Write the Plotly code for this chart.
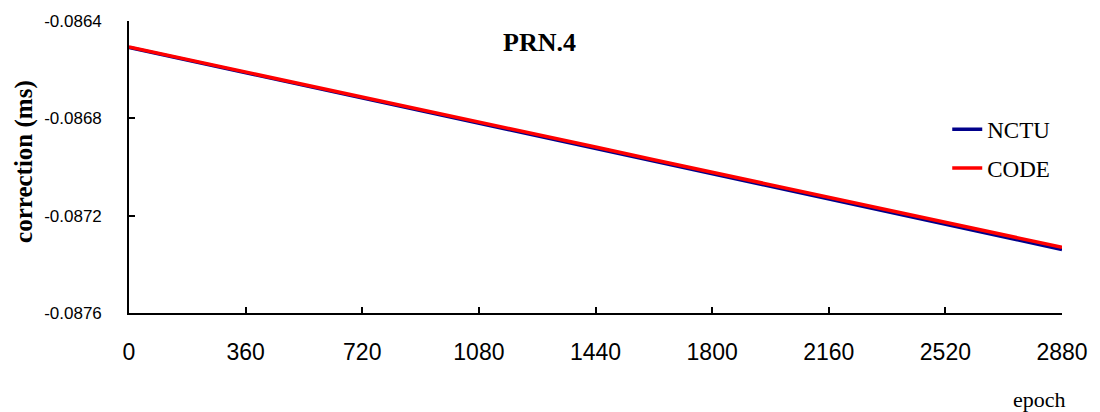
import plotly.graph_objects as go

epochs = [0, 180, 360, 540, 720, 900, 1080, 1260, 1440, 1620, 1800, 1980, 2160, 2340, 2520, 2700, 2880]
code_vals = [-0.086507, -0.086558, -0.086610, -0.086661, -0.086713, -0.086764, -0.086815, -0.086867,
             -0.086918, -0.086970, -0.087021, -0.087073, -0.087124, -0.087176, -0.087227, -0.087279, -0.087330]
nctu_vals = [-0.086509, -0.086561, -0.086613, -0.086665, -0.086717, -0.086769, -0.086821, -0.086873,
             -0.086925, -0.086977, -0.087029, -0.087081, -0.087133, -0.087185, -0.087236, -0.087288, -0.087339]
x_ticks = [0, 360, 720, 1080, 1440, 1800, 2160, 2520, 2880]
y_ticks = [-0.0876, -0.0872, -0.0868, -0.0864]
y_tick_labels = ["-0.0876", "-0.0872", "-0.0868", "-0.0864"]

fig = go.Figure()
fig.add_trace(go.Scatter(x=epochs, y=nctu_vals, name="NCTU", mode="lines",
                         line=dict(color="#00008B", width=3.5), legendgroup="a"))
fig.add_trace(go.Scatter(x=epochs, y=code_vals, name="CODE", mode="lines",
                         line=dict(color="#FF0000", width=3.5), legendgroup="b"))

fig.update_layout(
    width=1100, height=412,
    margin=dict(l=129, r=34, t=20, b=99),
    plot_bgcolor="white", paper_bgcolor="white",
    showlegend=True,
    legend=dict(x=0.877, y=0.703, xanchor="left", yanchor="top",
                font=dict(family="Liberation Serif", size=23, color="black"),
                bgcolor="rgba(0,0,0,0)", tracegroupgap=6, traceorder="grouped"),
    xaxis=dict(range=[0, 2880], tickvals=x_ticks, ticks="inside", ticklen=6,
               tickcolor="black", tickwidth=1.5, showline=True, linecolor="black", linewidth=1.5,
               showgrid=False, zeroline=False,
               tickfont=dict(family="Liberation Sans", size=23, color="black"), ticklabelstandoff=18),
    yaxis=dict(range=[-0.0876, -0.0864], tickvals=y_ticks, ticktext=y_tick_labels,
               ticks="inside", ticklen=6, tickcolor="black", tickwidth=1.5,
               showline=True, linecolor="black", linewidth=1.5, showgrid=False, zeroline=False,
               tickfont=dict(family="Liberation Sans", size=17, color="black"), ticklabelstandoff=22),
)
fig.add_annotation(text="<b>correction (ms)</b>", xref="paper", yref="paper", x=-0.112, y=0.519,
                   xanchor="center", yanchor="middle", textangle=-90, showarrow=False,
                   font=dict(family="Liberation Serif", size=25, color="black"))
fig.add_annotation(text="<b>PRN.4</b>", xref="paper", yref="paper", x=0.4397, y=0.925,
                   xanchor="center", yanchor="middle", showarrow=False,
                   font=dict(family="Liberation Serif", size=26, color="black"))
fig.add_annotation(text="epoch", xref="paper", yref="paper", x=1.006, y=-0.297,
                   xanchor="right", yanchor="middle", showarrow=False,
                   font=dict(family="Liberation Serif", size=22, color="black"))
fig.write_html("out.html", config={"displayModeBar": False},
               post_script="document.body.style.margin='0px';")
